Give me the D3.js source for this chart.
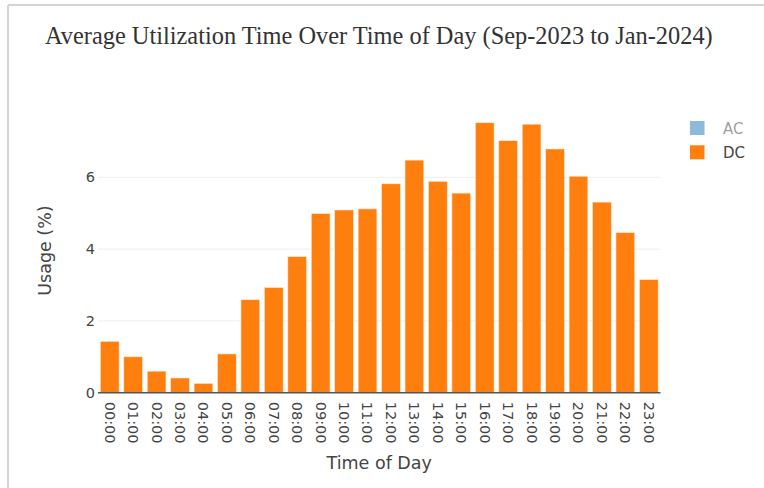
<!DOCTYPE html>
<html>
<head>
	<title>utilization by hour</title>
	<script src="https://cdnjs.cloudflare.com/ajax/libs/d3/7.8.5/d3.min.js"></script>
	<style>
		body { margin:0; background:#fff; }
		svg { display:block; }
	</style>
</head>
<body>
	<svg width="764" height="488"></svg>
	<script type="text/javascript">

		// hours of the day
		var hours = ["00:00","01:00","02:00","03:00","04:00","05:00","06:00","07:00",
			"08:00","09:00","10:00","11:00","12:00","13:00","14:00","15:00",
			"16:00","17:00","18:00","19:00","20:00","21:00","22:00","23:00"];

		// DC usage (%)
		var dcUsage = [1.43,1.00,0.60,0.41,0.26,1.08,2.59,2.93,3.79,4.99,5.09,5.12,
			5.82,6.48,5.89,5.56,7.52,7.02,7.48,6.79,6.03,5.31,4.46,3.15];

		var yTicks = [0,2,4,6];
		var legendItems = [
			{name:"AC", color:"#1f77b4", hidden:true},
			{name:"DC", color:"#ff7f0e", hidden:false}
		];

		var svg = d3.select("svg");
		var font = "'DejaVu Sans', Verdana, sans-serif";

		// grey frame round the screenshot
		svg.append("line").attr("x1",8).attr("x2",764).attr("y1",5).attr("y2",5)
			.style("stroke","#d4d4d4").style("stroke-width",2);
		svg.append("line").attr("x1",8).attr("x2",8).attr("y1",5).attr("y2",488)
			.style("stroke","#d4d4d4").style("stroke-width",2);

		var plotL = 98, plotR = 660.5, plotT = 108.4, plotB = 392.7;

		var x = d3.scaleBand().domain(hours).range([plotL,plotR])
			.paddingInner(0.2).paddingOuter(0.1);
		var y = d3.scaleLinear().domain([0,7.92]).range([plotB,plotT]);

		// grid
		svg.append("g").selectAll("line")
			.data(yTicks.filter(function(d){return d > 0}))
			.enter().append("line")
			.attr("x1",plotL).attr("x2",plotR)
			.attr("y1",function(d){return y(d)}).attr("y2",function(d){return y(d)})
			.style("stroke","#eeeeee").style("stroke-width",1);

		// bars
		svg.append("g").selectAll("rect")
			.data(dcUsage).enter().append("rect")
			.attr("x",function(d,i){return x(hours[i])})
			.attr("width",x.bandwidth())
			.attr("y",function(d){return y(d)})
			.attr("height",function(d){return plotB - y(d)})
			.style("fill","#ff7f0e")
			.style("stroke","#ffe9d6")
			.style("stroke-width",0.6);

		// base line
		svg.append("line").attr("x1",plotL).attr("x2",plotR)
			.attr("y1",plotB).attr("y2",plotB)
			.style("stroke","#555").style("stroke-width",1.6);

		// y axis
		var yAxis = svg.append("g")
			.attr("transform","translate(" + (plotL - 3) + ",0)")
			.call(d3.axisLeft(y).tickValues(yTicks).tickSize(0).tickPadding(0));
		yAxis.select(".domain").remove();
		yAxis.selectAll("text")
			.style("font-family",font).style("font-size","14.5px").style("fill","#444");

		// x axis, labels turned 90deg
		var xAxis = svg.append("g")
			.attr("transform","translate(0," + plotB + ")")
			.call(d3.axisBottom(x).tickSize(0));
		xAxis.select(".domain").remove();
		xAxis.selectAll("text")
			.attr("transform","rotate(90)")
			.attr("x",9).attr("y",0).attr("dy","0.35em")
			.style("text-anchor","start")
			.style("font-family",font).style("font-size","14.5px").style("fill","#444");

		// axis titles
		svg.append("text").attr("x",(plotL + plotR) / 2).attr("y",469)
			.attr("text-anchor","middle")
			.style("font-family",font).style("font-size","17.5px").style("fill","#444")
			.text("Time of Day");
		svg.append("text")
			.attr("transform","translate(51," + ((plotT + plotB) / 2) + ") rotate(-90)")
			.attr("text-anchor","middle")
			.style("font-family",font).style("font-size","17.5px").style("fill","#444")
			.text("Usage (%)");

		// title, fitted to the width seen in the picture
		var title = svg.append("text").attr("x",45).attr("y",44)
			.style("font-family","'Liberation Serif', 'Times New Roman', serif")
			.style("font-size","24px").style("fill","#333")
			.text("Average Utilization Time Over Time of Day (Sep-2023 to Jan-2024)");
		var tw = title.node().getComputedTextLength();
		title.style("font-size", (24 * 668 / tw) + "px");

		// legend
		var legend = svg.append("g").selectAll("g")
			.data(legendItems).enter().append("g")
			.attr("transform",function(d,i){return "translate(690," + (121 + i * 24.3) + ")"})
			.style("opacity",function(d){return d.hidden ? 0.5 : 1});
		legend.append("rect").attr("width",14.5).attr("height",14)
			.style("fill",function(d){return d.color});
		legend.append("text").attr("x",33).attr("y",12.5)
			.style("font-family",font).style("font-size","15px").style("fill","#444")
			.text(function(d){return d.name});
	</script>
</body>
</html>
